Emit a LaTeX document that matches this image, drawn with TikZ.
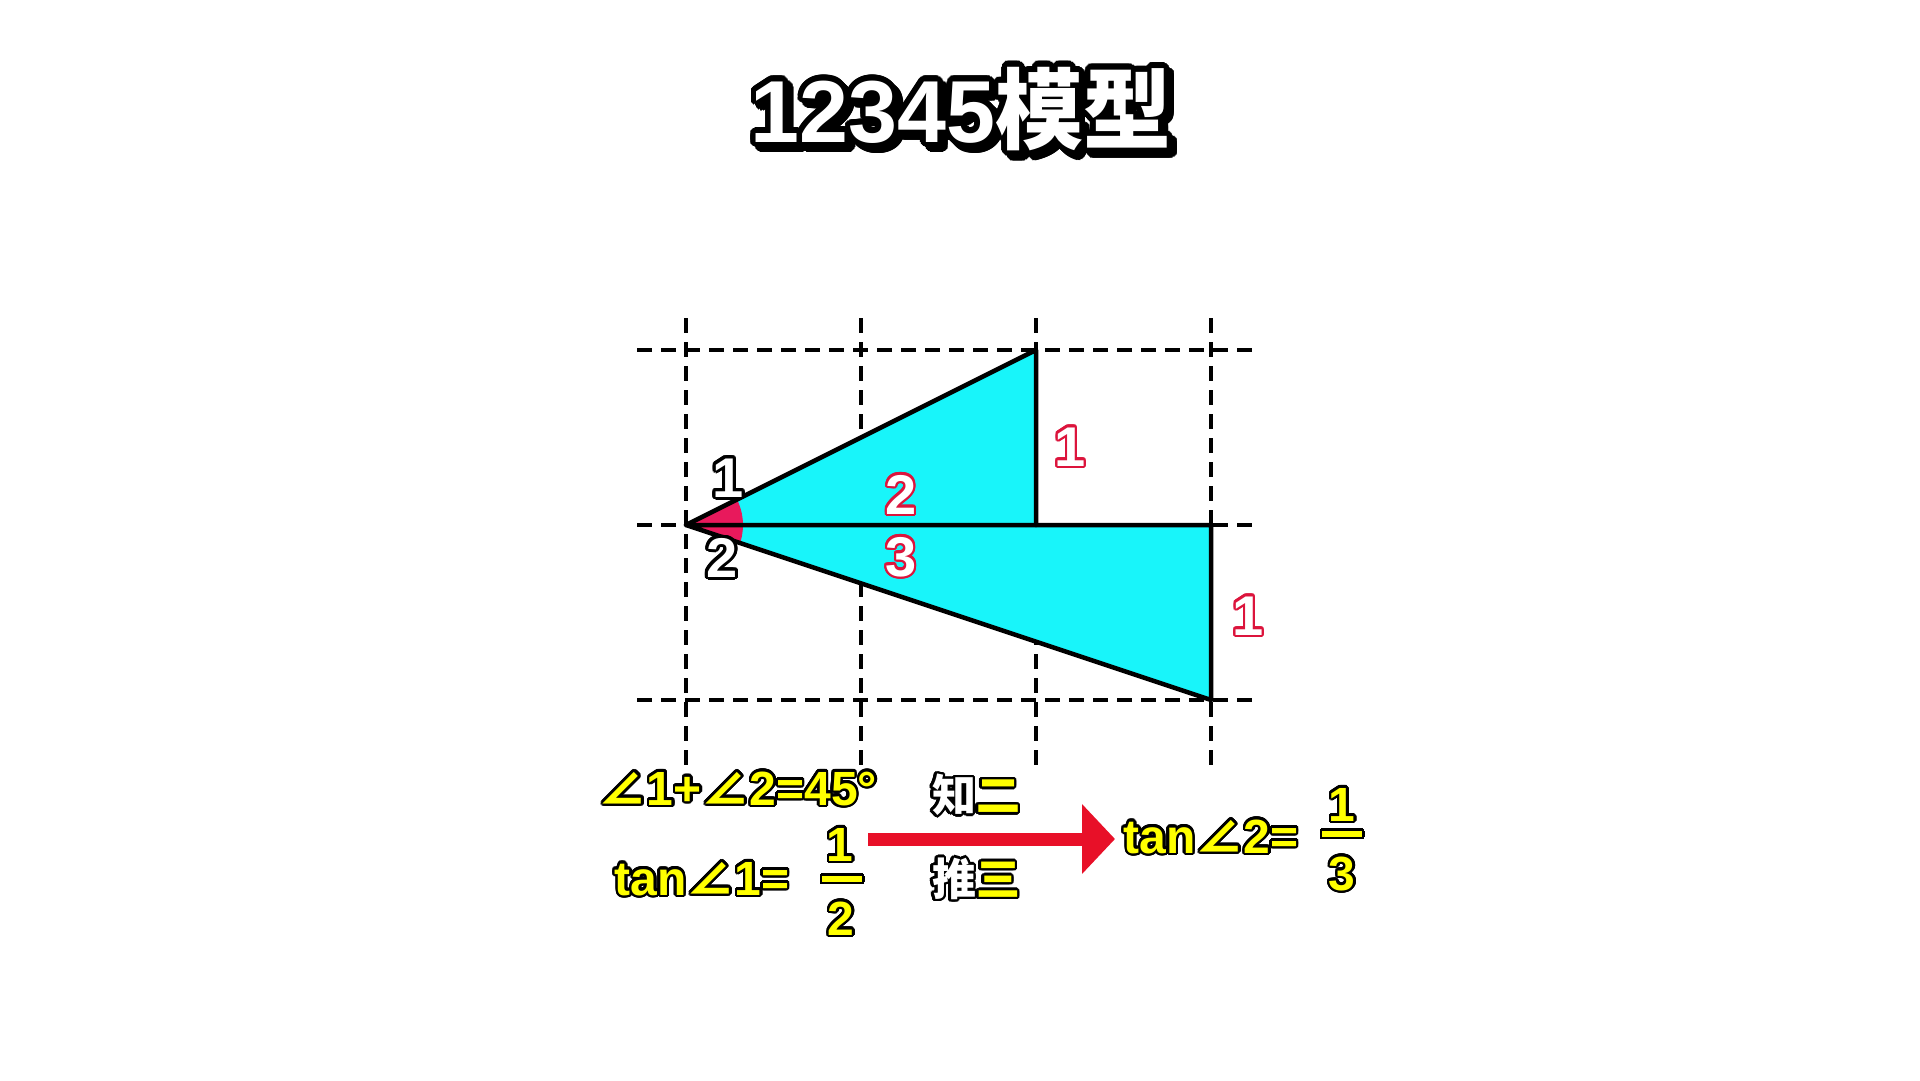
\documentclass[tikz,border=0pt]{standalone}
\usepackage{fontspec}
\setmainfont{Liberation Sans}
\newfontfamily\cjk{Noto Sans CJK SC}
\usepackage{graphicx}
\usepackage{contour}
\contournumber{24}
\usetikzlibrary{arrows.meta}
\definecolor{cyanfill}{RGB}{24,245,250}
\definecolor{angpink}{RGB}{232,25,92}
\definecolor{lblred}{RGB}{220,20,60}
\definecolor{arrred}{RGB}{232,16,40}
\definecolor{ylw}{RGB}{255,255,0}
\newcommand\angsym{{\cjk ∠}}
\newcommand\olblack[1]{\contourlength{2.5pt}\contour{black}{#1}}
\newcommand\olwhite[1]{\contourlength{3pt}\contour{black}{#1}}
\newcommand\olred[1]{\contourlength{2.2pt}\contour{lblred}{#1}}
\newcommand\oltitle[1]{\contourlength{5.5pt}\contour{black}{#1}}
\tikzset{
  gridline/.style={line width=4pt, dash pattern=on 15pt off 9pt, line cap=butt},
  trifill/.style={fill=cyanfill},
  edgeline/.style={line width=4.5pt, line join=round, line cap=round},
  txt/.style={inner sep=0pt, outer sep=0pt, anchor=base},
  titlefont/.style={font=\bfseries\fontsize{88}{90}\selectfont},
  lblfont/.style={font=\bfseries\fontsize{56}{60}\selectfont},
  eqfont/.style={font=\bfseries\fontsize{48}{52}\selectfont},
  cjkfont/.style={font=\cjk\bfseries\fontsize{44}{48}\selectfont},
}
\begin{document}
\begin{tikzpicture}[x=1pt,y=-1pt]
\useasboundingbox[fill=white] (0,0) rectangle (1920,1080);
% vertices
\coordinate (A) at (686,525);
\coordinate (B) at (1036,350);
\coordinate (C) at (1036,525);
\coordinate (D) at (1211,525);
\coordinate (E) at (1211,700);
% grid
\foreach \yy in {350,525,700}
  \draw[gridline] (637,\yy) -- (1253,\yy);
\foreach \xx in {686,861,1036,1211}
  \draw[gridline] (\xx,318) -- (\xx,765);
% triangles
\fill[trifill] (A) -- (B) -- (C) -- cycle;
\fill[trifill] (A) -- (D) -- (E) -- cycle;
% angle marks
\begin{scope}
  \clip (A) -- (B) -- (C) -- cycle;
  \fill[angpink] (A) circle[radius=57pt];
\end{scope}
\begin{scope}
  \clip (A) -- (D) -- (E) -- cycle;
  \fill[angpink] (A) circle[radius=57pt];
\end{scope}
% outlines
\draw[edgeline] (A) -- (B) -- (C);
\draw[edgeline] (A) -- (D) -- (E) -- cycle;
% labels on figure
\node[txt, lblfont, text=white] (lab1) at (728,497) {\olwhite{1}};
\node[txt, lblfont, text=white] (lab2) at (722,577) {\olwhite{2}};
\node[txt, lblfont, text=white] (tri2) at (901,514) {\olred{2}};
\node[txt, lblfont, text=white] (tri3) at (901,576) {\olred{3}};
\node[txt, lblfont, text=white] (side1) at (1070,466) {\olred{1}};
\node[txt, lblfont, text=white] (side2) at (1248,635) {\olred{1}};
% title
\node[txt, titlefont, text=black] (titleshadow) at (966,147) {\oltitle{12345{\cjk 模型}}};
\node[txt, titlefont, text=white] (title) at (961,142) {\oltitle{12345{\cjk 模型}}};
% bottom formulas
\node[txt, eqfont, text=ylw] (eqsum) at (738,805) {\olblack{\angsym1+\angsym2=45°}};
\node[txt, eqfont, text=ylw] (tanone) at (702,895) {\olblack{tan\angsym1=}};
\node[txt, eqfont, text=ylw] (fonenum) at (840,861) {\olblack{1}};
\node[inner sep=0pt, text=ylw] (fonebar) at (842,880) {\contourlength{2.5pt}\contour{black}{\rule{40pt}{6pt}}};
\node[txt, eqfont, text=ylw] (foneden) at (841,935) {\olblack{2}};
\node[txt, eqfont, text=ylw] (tantwo) at (1211,853) {\olblack{tan\angsym2=}};
\node[txt, eqfont, text=ylw] (ftwonum) at (1342,821) {\olblack{1}};
\node[inner sep=0pt, text=ylw] (ftwobar) at (1342,835) {\contourlength{2.5pt}\contour{black}{\rule{40pt}{6pt}}};
\node[txt, eqfont, text=ylw] (ftwoden) at (1342,890) {\olblack{3}};
% know two / deduce three
\node[inner sep=0pt, cjkfont] (zhi) at (976,796) {\olblack{\textcolor{white}{知}\textcolor{ylw}{二}}};
\node[inner sep=0pt, cjkfont] (tui) at (976,880) {\olblack{\textcolor{white}{推}\textcolor{ylw}{三}}};
% arrow
\coordinate (arrS) at (868,839);
\coordinate (arrE) at (1115,839);
\draw[arrred, line width=13pt, -{Triangle[length=33pt,width=68pt]}] (arrS) -- (arrE);
\end{tikzpicture}
\end{document}
